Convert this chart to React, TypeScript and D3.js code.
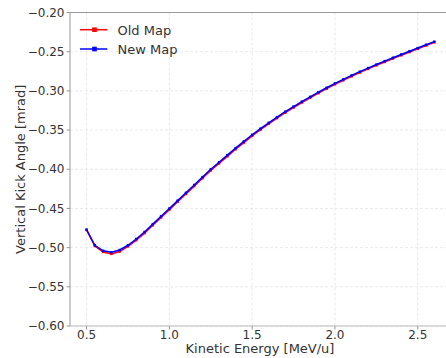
import React from "react";
import * as d3 from "d3";

const energies = [0.5,0.55,0.6,0.65,0.7,0.75,0.8,0.85,0.9,0.95,1.0,1.05,1.1,1.15,1.2,1.25,1.3,1.35,1.4,1.45,1.5,1.55,1.6,1.65,1.7,1.75,1.8,1.85,1.9,1.95,2.0,2.05,2.1,2.15,2.2,2.25,2.3,2.35,2.4,2.45,2.5,2.55,2.6];
const newMap = [-0.477,-0.497,-0.504,-0.506,-0.503,-0.497,-0.489,-0.48,-0.47,-0.46,-0.45,-0.44,-0.43,-0.42,-0.41,-0.4,-0.391,-0.382,-0.373,-0.3645,-0.356,-0.3482,-0.3407,-0.3335,-0.3266,-0.32,-0.3137,-0.3076,-0.3017,-0.296,-0.2905,-0.2853,-0.2803,-0.2755,-0.2709,-0.2664,-0.262,-0.2577,-0.2535,-0.2494,-0.2453,-0.2412,-0.2372];
const oldMap = [-0.4775,-0.498,-0.5055,-0.508,-0.505,-0.4985,-0.4905,-0.4815,-0.4715,-0.4615,-0.4515,-0.4415,-0.4315,-0.4215,-0.4115,-0.4015,-0.3925,-0.3835,-0.3745,-0.366,-0.3575,-0.3496,-0.342,-0.3348,-0.3279,-0.3213,-0.3149,-0.3088,-0.3029,-0.2972,-0.2917,-0.2865,-0.2815,-0.2766,-0.272,-0.2675,-0.2631,-0.2588,-0.2546,-0.2505,-0.2464,-0.2422,-0.2381];
const xTicks = [0.5,1.0,1.5,2.0,2.5];
const yTicks = [-0.6,-0.55,-0.5,-0.45,-0.4,-0.35,-0.3,-0.25,-0.2];
const seriesNames = ["Old Map", "New Map"];
const seriesColors = ["#ff0000", "#0000ff"];

export default function App() {
  const W = 446, H = 358;
  const left = 70, top = 12.5, bottom = 326;
  const x = d3.scaleLinear().domain([0.4, 2.7]).range([left, left + 2.3 * 165.6]);
  const y = d3.scaleLinear().domain([-0.6, -0.2]).range([bottom, top]);
  const line = d3.line<number>().x((_, i) => x(energies[i])).y((d) => y(d));
  const font = "DejaVu Sans, sans-serif";
  const series = [oldMap, newMap];
  const right = x(2.7);
  return (
    <svg width={W} height={H} style={{ position: "absolute", left: 0, top: 0 }}>
      <rect width={W} height={H} fill="#fff" />
      {xTicks.map((t) => (
        <line key={"gx" + t} x1={x(t)} x2={x(t)} y1={top} y2={bottom} stroke="#e3e3e3" strokeWidth={0.8} strokeDasharray="3,2" />
      ))}
      {yTicks.map((t) => (
        <line key={"gy" + t} x1={left} x2={right} y1={y(t)} y2={y(t)} stroke="#e3e3e3" strokeWidth={0.8} strokeDasharray="3,2" />
      ))}
      {series.map((s, si) => (
        <g key={si}>
          <path d={line(s) || ""} fill="none" stroke={seriesColors[si]} strokeWidth={1.5} />
          {s.map((v, i) => (
            <rect key={i} x={x(energies[i]) - 1.2} y={y(v) - 1.2} width={2.4} height={2.4} fill={seriesColors[si]} />
          ))}
        </g>
      ))}
      <line x1={left} x2={left} y1={top} y2={bottom} stroke="#999" strokeWidth={1} />
      <line x1={left} x2={right} y1={top} y2={top} stroke="#999" strokeWidth={1} />
      <line x1={left} x2={right} y1={bottom} y2={bottom} stroke="#bbb" strokeWidth={1} />
      {yTicks.map((t) => (
        <g key={"ty" + t}>
          <line x1={left - 3.5} x2={left} y1={y(t)} y2={y(t)} stroke="#999" />
          <text x={left - 5.5} y={y(t)} dy="0.35em" textAnchor="end" fontFamily={font} fontSize={12} fill="#333">
            {d3.format(".2f")(t).replace("-", "\u2212")}
          </text>
        </g>
      ))}
      {xTicks.map((t) => (
        <g key={"tx" + t}>
          <line x1={x(t)} x2={x(t)} y1={bottom} y2={bottom + 3.5} stroke="#999" />
          <text x={x(t)} y={bottom + 12.5} textAnchor="middle" fontFamily={font} fontSize={12} fill="#333">
            {d3.format(".1f")(t)}
          </text>
        </g>
      ))}
      <text x={260} y={352.5} textAnchor="middle" fontFamily={font} fontSize={13} fill="#333">Kinetic Energy [MeV/u]</text>
      <text transform={`translate(24.5,${(top + bottom) / 2}) rotate(-90)`} textAnchor="middle" fontFamily={font} fontSize={13} fill="#333">Vertical Kick Angle [mrad]</text>
      {seriesNames.map((n, i) => (
        <g key={n}>
          <line x1={80} x2={107.3} y1={29.7 + i * 19.3} y2={29.7 + i * 19.3} stroke={seriesColors[i]} strokeWidth={1.5} />
          <rect x={92.2} y={27.4 + i * 19.3} width={4.6} height={4.6} fill={seriesColors[i]} />
          <text x={117.5} y={34.5 + i * 19} fontFamily={font} fontSize={13} fill="#333">{n}</text>
        </g>
      ))}
    </svg>
  );
}
